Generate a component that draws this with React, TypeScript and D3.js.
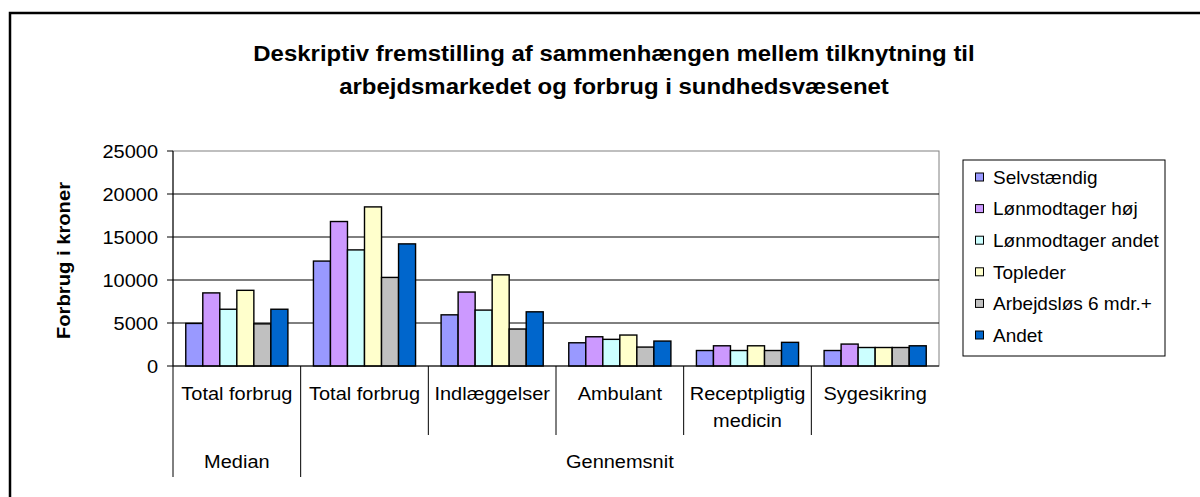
import React from "react";
import * as d3 from "d3";

const titleLines = [
  "Deskriptiv fremstilling af sammenhængen mellem tilknytning til",
  "arbejdsmarkedet og forbrug i sundhedsvæsenet",
];
const yAxisTitle = "Forbrug i kroner";
const categories = ["Total forbrug", "Total forbrug", "Indlæggelser", "Ambulant", "Receptpligtig\nmedicin", "Sygesikring"];
const groups = [
  { label: "Median", span: 1 },
  { label: "Gennemsnit", span: 5 },
];
const seriesNames = ["Selvstændig", "Lønmodtager høj", "Lønmodtager andet", "Topleder", "Arbejdsløs 6 mdr.+", "Andet"];
const seriesColors = ["#9999FF", "#CC99FF", "#CCFFFF", "#FFFFCC", "#C0C0C0", "#0066CC"];
const selvstaendig = [4950, 12200, 5950, 2700, 1800, 1800];
const lonHoj = [8500, 16800, 8600, 3400, 2350, 2550];
const lonAndet = [6600, 13500, 6500, 3100, 1800, 2150];
const topleder = [8800, 18500, 10600, 3600, 2350, 2150];
const arbejdslos = [4900, 10300, 4300, 2200, 1800, 2150];
const andet = [6600, 14200, 6300, 2900, 2750, 2350];
const seriesValues = [selvstaendig, lonHoj, lonAndet, topleder, arbejdslos, andet];
const yTicks = [0, 5000, 10000, 15000, 20000, 25000];

const FONT = "'Liberation Sans', Arial, Helvetica, sans-serif";

export default function App() {
  const W = 1200, H = 497;
  const plot = { left: 173, right: 939, top: 151, bottom: 366 };
  const x = d3.scaleBand<number>().domain(d3.range(categories.length)).range([plot.left, plot.right]).paddingInner(0).paddingOuter(0);
  const xs = d3.scaleBand<number>().domain(d3.range(seriesNames.length)).range([0, x.bandwidth()]).paddingInner(0).paddingOuter(0.75);
  const y = d3.scaleLinear().domain([0, 25000]).range([plot.bottom, plot.top]);

  const labelSize = 18.5;
  const sx = 1.08;
  const level1Bottom = 435;
  const level2Bottom = 477;

  let acc = 0;
  const groupRanges = groups.map((g) => {
    const start = acc;
    acc += g.span;
    return { ...g, start, end: acc };
  });

  const legend = { x: 963, y: 160, w: 202, h: 196, rowH: 31.6, first: 177 };

  return (
    <div style={{ position: "absolute", left: 0, top: 0 }}>
      <svg width={W} height={H} style={{ display: "block", background: "#fff" }} fontFamily={FONT}>
        <rect x={10} y={13} width={1300} height={600} fill="#fff" stroke="#000" strokeWidth={2.5} />
        {titleLines.map((t, i) => (
          <text key={i} transform={`translate(614,${61 + i * 32.7}) scale(1.115,1)`} textAnchor="middle" fontSize={21.5} fontWeight="bold" fill="#000">
            {t}
          </text>
        ))}
        <rect x={plot.left} y={plot.top} width={plot.right - plot.left} height={plot.bottom - plot.top} fill="#fff" stroke="#808080" strokeWidth={1} />
        {yTicks.map((t) => (
          <g key={t}>
            {t > 0 && t < 25000 && <line x1={plot.left} x2={plot.right} y1={y(t)} y2={y(t)} stroke="#000" strokeWidth={1} />}
            <line x1={plot.left - 6} x2={plot.left} y1={y(t)} y2={y(t)} stroke="#000" />
            <text transform={`translate(158,${y(t) + 6.7}) scale(${sx},1)`} textAnchor="end" fontSize={labelSize} fill="#000">
              {t}
            </text>
          </g>
        ))}
        {seriesValues.map((vals, s) =>
          vals.map((v, c) => (
            <rect
              key={`${s}-${c}`}
              x={(x(c) as number) + (xs(s) as number)}
              y={y(v)}
              width={xs.bandwidth()}
              height={y(0) - y(v)}
              fill={seriesColors[s]}
              stroke="#000"
              strokeWidth={1.4}
            />
          ))
        )}
        <line x1={plot.left} x2={plot.left} y1={plot.top} y2={level2Bottom} stroke="#000" />
        <line x1={plot.left} x2={plot.right} y1={plot.bottom} y2={plot.bottom} stroke="#000" />
        {categories.map((_, c) =>
          c === 0 ? null : (
            <line
              key={c}
              x1={x(c) as number}
              x2={x(c) as number}
              y1={plot.bottom}
              y2={groupRanges.some((g) => g.start === c) ? level2Bottom : level1Bottom}
              stroke="#000"
            />
          )
        )}
        {categories.map((cat, c) => {
          const lines = cat.split("\n");
          const cx = (x(c) as number) + x.bandwidth() / 2;
          return lines.map((ln, i) => (
            <text key={`${c}-${i}`} transform={`translate(${cx},${400 + i * 27}) scale(${sx},1)`} textAnchor="middle" fontSize={labelSize} fill="#000">
              {ln}
            </text>
          ));
        })}
        {groupRanges.map((g) => {
          const cx = ((x(g.start) as number) + (g.end < categories.length ? (x(g.end) as number) : plot.right)) / 2;
          return (
            <text key={g.label} transform={`translate(${cx},468) scale(${sx},1)`} textAnchor="middle" fontSize={labelSize} fill="#000">
              {g.label}
            </text>
          );
        })}
        <text transform={`translate(70,${(plot.top + plot.bottom) / 2 + 2}) rotate(-90) scale(1.155,1)`} textAnchor="middle" fontSize={17.5} fontWeight="bold" fill="#000">
          {yAxisTitle}
        </text>
        <rect x={legend.x} y={legend.y} width={legend.w} height={legend.h} fill="#fff" stroke="#000" strokeWidth={1} />
        {seriesNames.map((n, i) => {
          const cy = legend.first + i * legend.rowH;
          return (
            <g key={n}>
              <rect x={975.5} y={cy - 4} width={8} height={8} fill={seriesColors[i]} stroke="#000" strokeWidth={1} />
              <text x={993} y={cy + 6.8} fontSize={19} fill="#000">
                {n}
              </text>
            </g>
          );
        })}
      </svg>
    </div>
  );
}
